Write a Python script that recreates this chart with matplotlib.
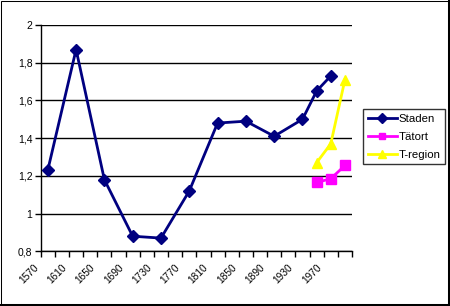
import matplotlib
matplotlib.use("Agg")
import matplotlib.pyplot as plt
import matplotlib.transforms as mtransforms
import numpy as np

plt.rcParams['font.family'] = ['Liberation Sans', 'DejaVu Sans']

# Category labels (every 20 years, labelled every 40)
label_years = [1570, 1610, 1650, 1690, 1730, 1770, 1810, 1850, 1890, 1930, 1970]

staden_years = [1570, 1610, 1650, 1690, 1730, 1770, 1810, 1850, 1890, 1930, 1950, 1970]
staden_vals = [1.23, 1.87, 1.18, 0.88, 0.87, 1.12, 1.48, 1.49, 1.41, 1.50, 1.65, 1.73]

tatort_years = [1950, 1970, 1990]
tatort_vals = [1.165, 1.185, 1.255]

tregion_years = [1950, 1970, 1990]
tregion_vals = [1.27, 1.37, 1.71]

yticks = [0.8, 1.0, 1.2, 1.4, 1.6, 1.8, 2.0]

fig = plt.figure(figsize=(4.5, 3.06), dpi=100)
ax = fig.add_axes([40.7/450, 1-251.3/306, (352-40.7)/450, (251.3-25)/306])

for y in yticks:
    ax.axhline(y, color='black', lw=1.0, zorder=1)

ax.plot(staden_years, staden_vals, color='#000080', lw=2, marker='D', ms=6.5,
        mfc='#000080', mec='#000080', label='Staden', zorder=3)
ax.plot(tatort_years, tatort_vals, color='#FF00FF', lw=2, marker='s', ms=6.5,
        mfc='#FF00FF', mec='#FF00FF', label='Tätort', zorder=3)
ax.plot(tregion_years, tregion_vals, color='#FFFF00', lw=2, marker='^', ms=7.5,
        mfc='#FFFF00', mec='#FFFF00', label='T-region', zorder=3)

ax.set_xlim(1560, 2000)
ax.set_ylim(0.8, 2.0)

ax.set_xticks(np.arange(1560, 2001, 20))
ax.tick_params(axis='x', which='major', length=4, width=1, color='black', direction='out',
               labelbottom=False)
ax.set_yticks(yticks)
ax.set_yticklabels([('%g' % v).replace('.', ',') for v in yticks])
ax.tick_params(axis='y', length=4, width=1, color='black', direction='out', pad=2,
               labelsize=7.5)

# rotated category labels, Excel style
off = mtransforms.ScaledTranslation(-7.5/100, -11.5/100, fig.dpi_scale_trans)
for yr in label_years:
    t = ax.text(yr, 0, str(yr), transform=ax.get_xaxis_transform() + off,
                ha='right', va='top', fontsize=7.3)
    t.set_rotation(45.0)

for s in ['top', 'right']:
    ax.spines[s].set_visible(False)
ax.spines['left'].set_linewidth(1)
ax.spines['bottom'].set_linewidth(1)

leg = ax.legend(loc='upper left', bbox_to_anchor=(363/450, 1-109.3/306),
                bbox_transform=fig.transFigure, frameon=True, fancybox=False,
                edgecolor='black', fontsize=8.2, handlelength=2.6, handletextpad=0.15,
                borderpad=0.4, labelspacing=0.7, borderaxespad=0, markerscale=0.75)
leg.get_frame().set_linewidth(1)

# figure border (shadow style: thicker right/bottom)
fig.patches.append(plt.Rectangle((0.5/450, 2/306), 447.5/450, 303.5/306, transform=fig.transFigure,
                                 fill=False, edgecolor='black', lw=0.75))
fig.patches.append(plt.Rectangle((447.5/450, 0), 2.5/450, 1, transform=fig.transFigure,
                                 facecolor='black', edgecolor='none'))
fig.patches.append(plt.Rectangle((0, 0), 1, 2.3/306, transform=fig.transFigure,
                                 facecolor='black', edgecolor='none'))

fig.savefig('out.png', dpi=100)
